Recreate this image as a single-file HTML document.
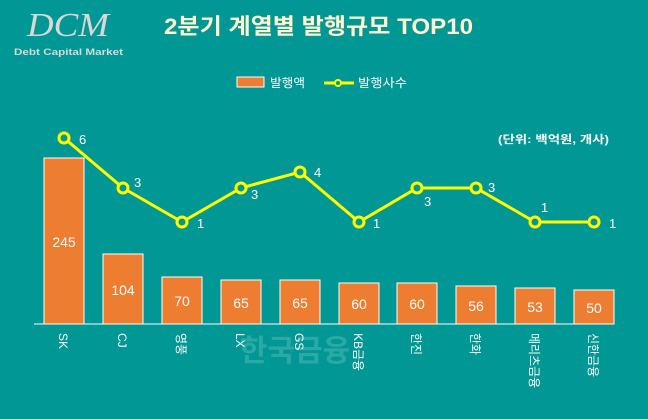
<!DOCTYPE html>
<html><head><meta charset="utf-8"><style>
html,body{margin:0;padding:0;background:#009794;}
svg{display:block}
</style></head><body>
<svg width="648" height="419" xmlns="http://www.w3.org/2000/svg" font-family="'Liberation Sans','Noto Sans CJK KR',sans-serif">
<rect width="648" height="419" fill="#009794"/>
<text x="68" y="36" font-family="'Liberation Serif',serif" font-style="italic" font-size="34" fill="#d8d8d8" text-anchor="middle" textLength="82" lengthAdjust="spacingAndGlyphs">DCM</text>
<text x="14" y="55" font-size="9.5" font-weight="bold" fill="#d8d8d8" textLength="109" lengthAdjust="spacingAndGlyphs">Debt Capital Market</text>
<text x="164" y="34" font-size="22" font-weight="bold" fill="#fff6d0" textLength="309" lengthAdjust="spacingAndGlyphs">2분기 계열별 발행규모 TOP10</text>
<rect x="237" y="77" width="27" height="10" fill="#ed7d31" stroke="#fff" stroke-width="1"/>
<text x="270" y="87" font-size="12" fill="#fff" textLength="35" lengthAdjust="spacingAndGlyphs">발행액</text>
<line x1="324" y1="83" x2="354" y2="83" stroke="#ffff00" stroke-width="3"/>
<circle cx="338" cy="83" r="3" fill="#009794" stroke="#ffff00" stroke-width="2"/>
<text x="358" y="87" font-size="12" fill="#fff" textLength="49" lengthAdjust="spacingAndGlyphs">발행사수</text>
<text x="498" y="143" font-size="11" font-weight="bold" fill="#fff" textLength="111" lengthAdjust="spacingAndGlyphs">(단위: 백억원, 개사)</text>
<line x1="34" y1="324" x2="614" y2="324" stroke="#ffffff" stroke-width="1"/>
<g fill="#ed7d31" stroke="#fff" stroke-width="1">
<rect x="44" y="158" width="40" height="166"/>
<rect x="103" y="254" width="40" height="70"/>
<rect x="162" y="277" width="40" height="47"/>
<rect x="221" y="280" width="40" height="44"/>
<rect x="280" y="280" width="40" height="44"/>
<rect x="339" y="283" width="40" height="41"/>
<rect x="397" y="283" width="40" height="41"/>
<rect x="456" y="286" width="40" height="38"/>
<rect x="515" y="288" width="40" height="36"/>
<rect x="574" y="290" width="40" height="34"/>
</g>
<g font-size="14" fill="#fff" text-anchor="middle">
<text x="64" y="247">245</text>
<text x="123" y="295">104</text>
<text x="182" y="306">70</text>
<text x="241" y="308">65</text>
<text x="300" y="308">65</text>
<text x="359" y="309">60</text>
<text x="417" y="309">60</text>
<text x="476" y="311">56</text>
<text x="535" y="312">53</text>
<text x="594" y="313">50</text>
</g>
<polyline points="64,138 123,188 182,222 241,188 300,172 359,222 417,188 476,188 535,222 594,222" fill="none" stroke="#ffff00" stroke-width="3"/>
<g fill="#009794" stroke="#ffff00" stroke-width="3">
<circle cx="64" cy="138" r="5"/><circle cx="123" cy="188" r="5"/><circle cx="182" cy="222" r="5"/>
<circle cx="241" cy="188" r="5"/><circle cx="300" cy="172" r="5"/><circle cx="359" cy="222" r="5"/>
<circle cx="417" cy="188" r="5"/><circle cx="476" cy="188" r="5"/><circle cx="535" cy="222" r="5"/><circle cx="594" cy="222" r="5"/>
</g>
<g font-size="13" fill="#fff">
<text x="79" y="144">6</text><text x="134" y="187">3</text><text x="197" y="228">1</text>
<text x="251" y="199">3</text><text x="314" y="177">4</text><text x="373" y="228">1</text>
<text x="424" y="206">3</text><text x="488" y="192">3</text><text x="541" y="212">1</text><text x="609" y="228">1</text>
</g>
<text x="295" y="361" font-size="30" font-weight="bold" fill="#3fb0ad" text-anchor="middle" opacity="0.7">한국금융</text>
<g font-size="12" fill="#fff">
<text transform="translate(59,333) rotate(90)">SK</text>
<text transform="translate(118,333) rotate(90)">CJ</text>
<text transform="translate(177,333) rotate(90)">영풍</text>
<text transform="translate(236,333) rotate(90)">LX</text>
<text transform="translate(295,333) rotate(90)">GS</text>
<text transform="translate(354,333) rotate(90)">KB금융</text>
<text transform="translate(412,333) rotate(90)">한진</text>
<text transform="translate(471,333) rotate(90)">한화</text>
<text transform="translate(530,333) rotate(90)">메리츠금융</text>
<text transform="translate(589,333) rotate(90)">신한금융</text>
</g>
</svg>
</body></html>
